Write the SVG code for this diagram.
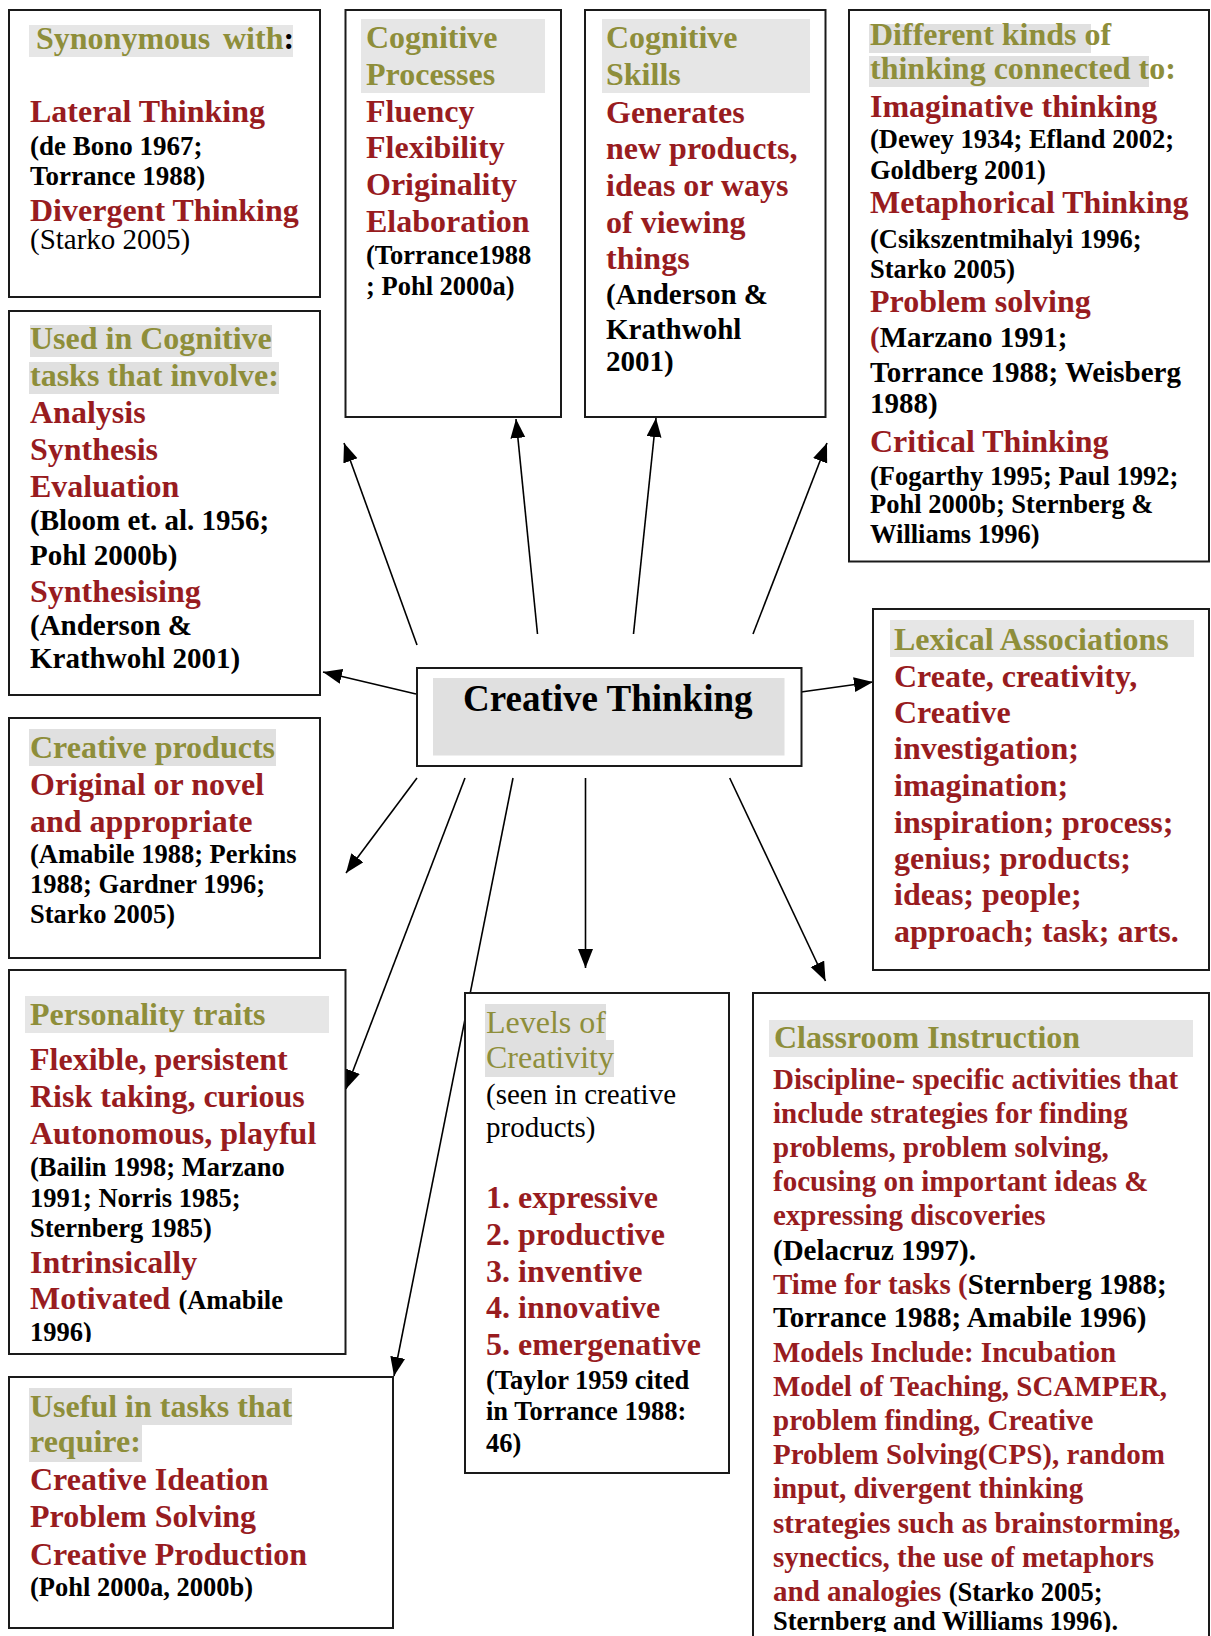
<svg xmlns="http://www.w3.org/2000/svg" width="1211" height="1636" viewBox="0 0 1211 1636">
<defs>
<style>
text{font-family:"Liberation Serif","Times New Roman",serif;}
.h{font-size:32px;font-weight:bold;fill:#8e8e3a;}
.hr{font-size:32px;font-weight:normal;fill:#8e8e3a;}
.r{font-size:32px;font-weight:bold;fill:#981c1f;}
.r29{font-size:29px;font-weight:bold;fill:#981c1f;}
.c{font-size:26.5px;font-weight:bold;fill:#000;}
.c29{font-size:29px;font-weight:bold;fill:#000;}
.g29{font-size:29px;font-weight:normal;fill:#000;}
.k{fill:#000;}
.red{fill:#981c1f;}
.box{fill:#fff;stroke:#1a1a1a;stroke-width:2;}
.hl{fill:#e6e6e6;}
.hd{fill:#e0e0e0;}
.con{stroke:#000;stroke-width:1.6;fill:none;marker-end:url(#ah);}
</style>
<marker id="ah" markerUnits="userSpaceOnUse" markerWidth="20" markerHeight="16" refX="19" refY="7.5" orient="auto">
<path d="M0,0 L19,7.5 L0,15 z" fill="#000"/>
</marker>
<clipPath id="clipJ"><rect x="753" y="993" width="458" height="639"/></clipPath>
<clipPath id="clipH"><rect x="9" y="970" width="337" height="372"/></clipPath>
</defs>

<g id="connectors">
<line class="con" x1="416" y1="694" x2="323" y2="672"/>
<line class="con" x1="417" y1="645" x2="344" y2="443"/>
<line class="con" x1="537.5" y1="634" x2="516" y2="419"/>
<line class="con" x1="633.5" y1="634" x2="656" y2="418"/>
<line class="con" x1="753" y1="634" x2="827" y2="443"/>
<line class="con" x1="801" y1="692" x2="873" y2="682"/>
<line class="con" x1="417" y1="778" x2="346" y2="873"/>
<line class="con" x1="465" y1="778" x2="346" y2="1089"/>
<line class="con" x1="513" y1="778" x2="394" y2="1376"/>
<line class="con" x1="585.5" y1="778" x2="585.5" y2="968"/>
<line class="con" x1="729.7" y1="778" x2="825.5" y2="981"/>
</g>

<g id="synonymous">
<rect class="box" x="9" y="10" width="311" height="287"/>
<rect class="hl" x="29" y="25" width="264" height="32"/>
<text class="h" x="36" y="49">Synonymous<tspan x="223">with</tspan><tspan class="k">:</tspan></text>
<text class="r" x="30" y="122">Lateral Thinking</text>
<text class="c" x="30" y="155" style="font-size:27px">(de Bono 1967;</text>
<text class="c" x="30" y="185" style="font-size:27px">Torrance 1988)</text>
<text class="r" x="30" y="221">Divergent Thinking</text>
<text class="g29" x="30" y="249">(Starko 2005)</text>
</g>

<g id="cognitive-processes">
<rect class="box" x="345.5" y="10" width="215.5" height="407"/>
<rect class="hl" x="361" y="19" width="184" height="74"/>
<text class="h" x="366" y="48">Cognitive</text>
<text class="h" x="366" y="85">Processes</text>
<text class="r" x="366" y="121.5">Fluency</text>
<text class="r" x="366" y="158">Flexibility</text>
<text class="r" x="366" y="195">Originality</text>
<text class="r" x="366" y="232">Elaboration</text>
<text class="c" x="366" y="264">(Torrance1988</text>
<text class="c" x="366" y="295">; Pohl 2000a)</text>
</g>

<g id="cognitive-skills">
<rect class="box" x="585" y="10" width="240.5" height="407"/>
<rect class="hl" x="602" y="19" width="208" height="74"/>
<text class="h" x="606" y="48">Cognitive</text>
<text class="h" x="606" y="85">Skills</text>
<text class="r" x="606" y="122.5">Generates</text>
<text class="r" x="606" y="159">new products,</text>
<text class="r" x="606" y="196">ideas or ways</text>
<text class="r" x="606" y="232.5">of viewing</text>
<text class="r" x="606" y="269">things</text>
<text class="c29" x="606" y="304">(Anderson &amp;</text>
<text class="c29" x="606" y="339">Krathwohl</text>
<text class="c29" x="606" y="370.5">2001)</text>
</g>

<g id="kinds-of-thinking">
<rect class="box" x="849" y="10" width="360" height="551.5"/>
<rect class="hd" x="869" y="24" width="222" height="29"/>
<rect class="hd" x="869" y="56" width="280" height="31"/>
<text class="h" x="870" y="45">Different kinds of</text>
<text class="h" x="870" y="79">thinking connected to:</text>
<text class="r" x="870" y="116.5">Imaginative thinking</text>
<text class="c" x="870" y="148">(Dewey 1934; Efland 2002;</text>
<text class="c" x="870" y="179">Goldberg 2001)</text>
<text class="r" x="870" y="213">Metaphorical Thinking</text>
<text class="c" x="870" y="248">(Csikszentmihalyi 1996;</text>
<text class="c" x="870" y="278">Starko 2005)</text>
<text class="r" x="870" y="312">Problem solving</text>
<text class="c29" x="870" y="347"><tspan class="red">(</tspan>Marzano 1991;</text>
<text class="c29" x="870" y="381.5">Torrance 1988; Weisberg</text>
<text class="c29" x="870" y="413">1988)</text>
<text class="r" x="870" y="451.5">Critical Thinking</text>
<text class="c" x="870" y="485">(Fogarthy 1995; Paul 1992;</text>
<text class="c" x="870" y="513">Pohl 2000b; Sternberg &amp;</text>
<text class="c" x="870" y="543">Williams 1996)</text>
</g>

<g id="cognitive-tasks">
<rect class="box" x="9" y="311" width="311" height="384"/>
<rect class="hd" x="30" y="325" width="242" height="32"/>
<rect class="hd" x="29" y="362" width="250" height="32"/>
<text class="h" x="30" y="349">Used in Cognitive</text>
<text class="h" x="30" y="386">tasks that involve:</text>
<text class="r" x="30" y="423">Analysis</text>
<text class="r" x="30" y="460">Synthesis</text>
<text class="r" x="30" y="497">Evaluation</text>
<text class="c29" x="30" y="530">(Bloom et. al. 1956;</text>
<text class="c29" x="30" y="565">Pohl 2000b)</text>
<text class="r" x="30" y="602">Synthesising</text>
<text class="c29" x="30" y="635">(Anderson &amp;</text>
<text class="c29" x="30" y="668">Krathwohl 2001)</text>
</g>

<g id="creative-thinking">
<rect class="box" x="417" y="668" width="384.5" height="98"/>
<rect fill="#e0e0e0" x="433" y="678" width="351.5" height="77.5"/>
<text x="463" y="711" style="font-size:37px;font-weight:bold;fill:#000">Creative Thinking</text>
</g>

<g id="lexical-associations">
<rect class="box" x="873" y="609" width="336" height="361"/>
<rect class="hl" x="890" y="620" width="304" height="37"/>
<text class="h" x="894" y="650">Lexical Associations</text>
<text class="r" x="894" y="687">Create, creativity,</text>
<text class="r" x="894" y="723">Creative</text>
<text class="r" x="894" y="759">investigation;</text>
<text class="r" x="894" y="796">imagination;</text>
<text class="r" x="894" y="833">inspiration; process;</text>
<text class="r" x="894" y="869">genius; products;</text>
<text class="r" x="894" y="905">ideas; people;</text>
<text class="r" x="894" y="942">approach; task; arts.</text>
</g>

<g id="creative-products">
<rect class="box" x="9" y="718" width="311" height="240"/>
<rect class="hd" x="29" y="729" width="247" height="37"/>
<text class="h" x="30" y="758">Creative products</text>
<text class="r" x="30" y="795">Original or novel</text>
<text class="r" x="30" y="832">and appropriate</text>
<text class="c" x="30" y="863">(Amabile 1988; Perkins</text>
<text class="c" x="30" y="893">1988; Gardner 1996;</text>
<text class="c" x="30" y="923">Starko 2005)</text>
</g>

<g id="personality-traits">
<rect class="box" x="9" y="970" width="336.5" height="384"/>
<rect class="hl" x="25" y="996" width="304" height="37"/>
<g clip-path="url(#clipH)">
<text class="h" x="30" y="1024.5">Personality traits</text>
<text class="r" x="30" y="1069.5">Flexible, persistent</text>
<text class="r" x="30" y="1107">Risk taking, curious</text>
<text class="r" x="30" y="1144">Autonomous, playful</text>
<text class="c" x="30" y="1176">(Bailin 1998; Marzano</text>
<text class="c" x="30" y="1207">1991; Norris 1985;</text>
<text class="c" x="30" y="1237">Sternberg 1985)</text>
<text class="r" x="30" y="1272.5">Intrinsically</text>
<text class="r" x="30" y="1309">Motivated <tspan class="c">(Amabile</tspan></text>
<text class="c" x="30" y="1341">1996)</text>
</g>
</g>

<g id="levels-of-creativity">
<rect class="box" x="465" y="993" width="264" height="480"/>
<rect class="hd" x="485" y="1004" width="121" height="36"/>
<rect class="hd" x="485" y="1040" width="129" height="37"/>
<text class="hr" x="486" y="1033">Levels of</text>
<text class="hr" x="486" y="1068">Creativity</text>
<text class="g29" x="486" y="1104">(seen in creative</text>
<text class="g29" x="486" y="1137">products)</text>
<text class="r" x="486" y="1208">1. expressive</text>
<text class="r" x="486" y="1245">2. productive</text>
<text class="r" x="486" y="1282">3. inventive</text>
<text class="r" x="486" y="1318">4. innovative</text>
<text class="r" x="486" y="1355">5. emergenative</text>
<text class="c" x="486" y="1389">(Taylor 1959 cited</text>
<text class="c" x="486" y="1420">in Torrance 1988:</text>
<text class="c" x="486" y="1452">46)</text>
</g>

<g id="classroom-instruction">
<rect class="box" x="753" y="993" width="456" height="700"/>
<rect class="hl" x="769" y="1020" width="424" height="37"/>
<g clip-path="url(#clipJ)">
<text class="h" x="774" y="1048">Classroom Instruction</text>
<text class="r29" x="773" y="1089">Discipline- specific activities that</text>
<text class="r29" x="773" y="1123">include strategies for finding</text>
<text class="r29" x="773" y="1157">problems, problem solving,</text>
<text class="r29" x="773" y="1191">focusing on important ideas &amp;</text>
<text class="r29" x="773" y="1225">expressing discoveries</text>
<text class="c29" x="773" y="1260">(Delacruz 1997).</text>
<text class="r29" x="773" y="1294">Time for tasks (<tspan class="k">Sternberg 1988;</tspan></text>
<text class="c29" x="773" y="1327">Torrance 1988; Amabile 1996)</text>
<text class="r29" x="773" y="1361.5">Models Include: Incubation</text>
<text class="r29" x="773" y="1396">Model of Teaching, SCAMPER,</text>
<text class="r29" x="773" y="1430">problem finding, Creative</text>
<text class="r29" x="773" y="1464">Problem Solving(CPS), random</text>
<text class="r29" x="773" y="1498">input, divergent thinking</text>
<text class="r29" x="773" y="1532.5">strategies such as brainstorming,</text>
<text class="r29" x="773" y="1567">synectics, the use of metaphors</text>
<text class="r29" x="773" y="1601">and analogies <tspan class="c">(Starko 2005;</tspan></text>
<text class="c" x="773" y="1630">Sternberg and Williams 1996).</text>
</g>
</g>

<g id="useful-in-tasks">
<rect class="box" x="9" y="1377" width="384" height="251"/>
<rect class="hd" x="29" y="1388" width="263" height="37"/>
<rect class="hd" x="29" y="1425" width="113" height="37"/>
<text class="h" x="30" y="1417">Useful in tasks that</text>
<text class="h" x="30" y="1452">require:</text>
<text class="r" x="30" y="1490">Creative Ideation</text>
<text class="r" x="30" y="1527">Problem Solving</text>
<text class="r" x="30" y="1565">Creative Production</text>
<text class="c" x="30" y="1596">(Pohl 2000a, 2000b)</text>
</g>
</svg>
